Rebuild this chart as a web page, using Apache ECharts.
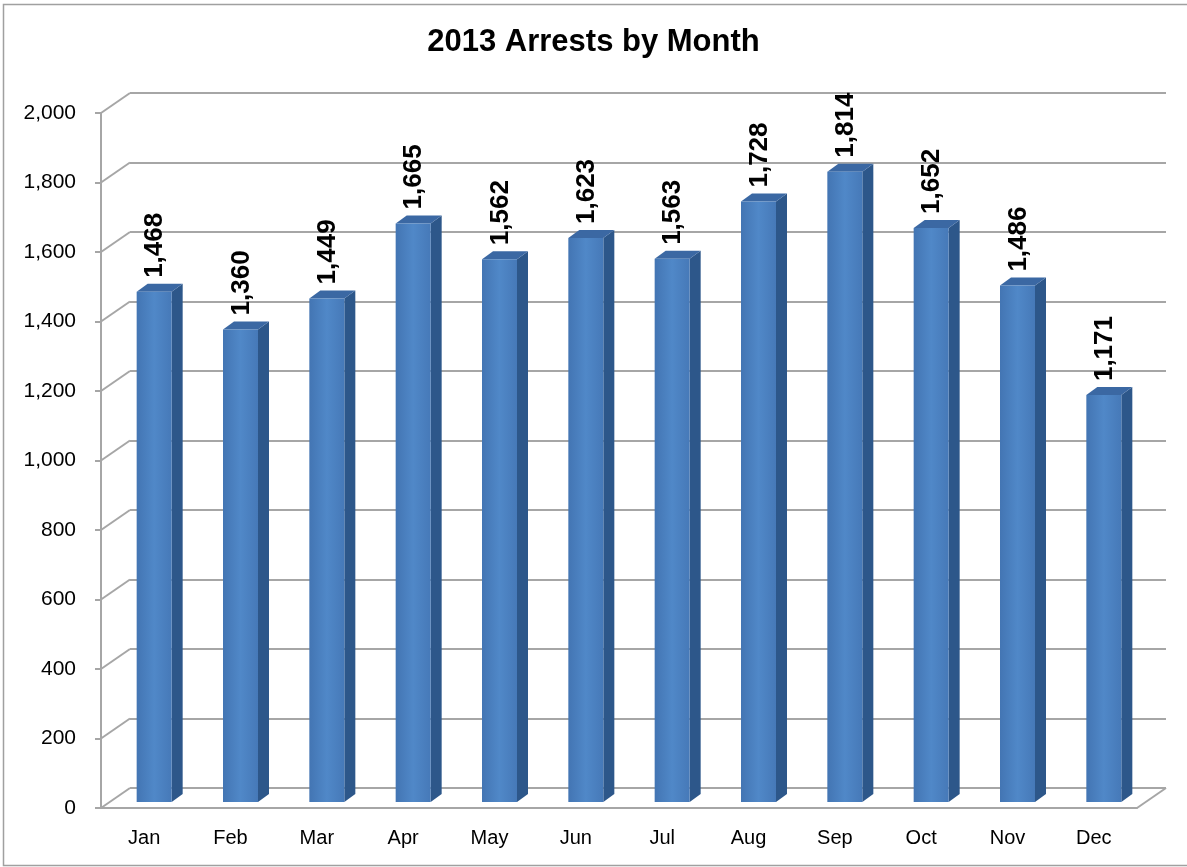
<!DOCTYPE html>
<html>
<head>
<meta charset="utf-8">
<script src="https://cdn.jsdelivr.net/npm/echarts@6/dist/echarts.min.js"></script>
<style>
  html, body { margin: 0; padding: 0; background: #fff; }
  #chart { width: 1187px; height: 867px; }
</style>
</head>
<body>
<div id="chart"></div>
<script>
// data
var months = ['Jan', 'Feb', 'Mar', 'Apr', 'May', 'Jun', 'Jul', 'Aug', 'Sep', 'Oct', 'Nov', 'Dec'];
var arrests = [1468, 1360, 1449, 1665, 1562, 1623, 1563, 1728, 1814, 1652, 1486, 1171];
var yTicks = [0, 200, 400, 600, 800, 1000, 1200, 1400, 1600, 1800, 2000];

// 3d look
var WALL_DX = 29, WALL_DY = -20;   // back wall offset
var BAR_DX = 10, BAR_DY = -6;      // bar sits mid-depth
var BAR_W = 35, DEPTH_X = 11, DEPTH_Y = -8;
var LINE = '#a6a6a6';
var FONT = 'Liberation Sans, Arial, sans-serif';

var chart = echarts.init(document.getElementById('chart'));

function renderBar (params, api) {
  var cat = api.value(0);
  var v = api.value(1);
  var top = api.coord([cat, v]);
  var base = api.coord([cat, 0]);
  var x0 = top[0] - BAR_W / 2 + BAR_DX;
  var x1 = x0 + BAR_W;
  var yt = top[1] + BAR_DY;
  var yb = base[1] + BAR_DY;
  return {
    type: 'group',
    children: [
      {
        type: 'polygon',
        shape: { points: [[x1, yt], [x1 + DEPTH_X, yt + DEPTH_Y], [x1 + DEPTH_X, yb + DEPTH_Y], [x1, yb]] },
        style: { fill: '#2d578a' }
      },
      {
        type: 'polygon',
        shape: { points: [[x0, yt], [x0 + DEPTH_X, yt + DEPTH_Y], [x1 + DEPTH_X, yt + DEPTH_Y], [x1, yt]] },
        style: { fill: '#3b68a3' }
      },
      {
        type: 'rect',
        shape: { x: x0, y: yt, width: BAR_W, height: yb - yt },
        style: {
          fill: new echarts.graphic.LinearGradient(0, 0, 1, 0, [
            { offset: 0, color: '#4375b3' },
            { offset: 0.5, color: '#5088c8' },
            { offset: 1, color: '#4679b8' }
          ])
        }
      },
      {
        type: 'text',
        x: (x0 + x1) / 2 + 1,
        y: yt - 14,
        rotation: Math.PI / 2,
        style: {
          text: v.toLocaleString('en-US'),
          font: 'bold 26px ' + FONT,
          fill: '#000',
          align: 'left',
          verticalAlign: 'middle'
        }
      }
    ]
  };
}

// side wall diagonals + floor right edge
function renderWall (params, api) {
  var cs = params.coordSys;
  var y = api.coord([0, api.value(0)])[1];
  var x = cs.x;
  var kids = [{
    type: 'line',
    shape: { x1: x, y1: y, x2: x + WALL_DX, y2: y + WALL_DY },
    style: { stroke: LINE, lineWidth: 2 }
  }];
  if (api.value(0) === 0) {
    var xr = cs.x + cs.width;
    kids.push({
      type: 'line',
      shape: { x1: xr, y1: y, x2: xr + WALL_DX, y2: y + WALL_DY },
      style: { stroke: LINE, lineWidth: 2 }
    });
  }
  return { type: 'group', children: kids };
}

chart.setOption({
  animation: false,
  title: {
    text: '2013 Arrests by Month',
    left: 'center',
    top: 22,
    textStyle: { fontFamily: FONT, fontSize: 31, fontWeight: 'bold', color: '#000' }
  },
  graphic: [{
    type: 'rect',
    shape: { x: 3.5, y: 4.5, width: 1200, height: 861 },
    style: { fill: 'none', stroke: '#a0a0a0', lineWidth: 1.5 },
    z: -10
  }],
  grid: [
    { left: 101, right: 50, top: 113, bottom: 59 },
    { left: 101 + WALL_DX, right: 50 - WALL_DX, top: 113 + WALL_DY, bottom: 59 - WALL_DY }
  ],
  xAxis: [
    {
      type: 'category',
      gridIndex: 0,
      data: months,
      axisLine: { lineStyle: { color: LINE, width: 2 } },
      axisTick: { length: 6, lineStyle: { color: LINE, width: 2 } },
      axisLabel: { color: '#000', fontFamily: FONT, fontSize: 20, margin: 20 }
    },
    {
      type: 'category',
      gridIndex: 1,
      data: months,
      show: false
    }
  ],
  yAxis: [
    {
      type: 'value',
      gridIndex: 0,
      min: 0,
      max: 2000,
      interval: 200,
      axisLine: { show: true, lineStyle: { color: LINE, width: 2 } },
      axisTick: { show: true, length: 6, lineStyle: { color: LINE, width: 2 } },
      splitLine: { show: false },
      axisLabel: {
        color: '#000', fontFamily: FONT, fontSize: 21, margin: 25,
        formatter: function (v) { return v.toLocaleString('en-US'); }
      }
    },
    {
      type: 'value',
      gridIndex: 1,
      min: 0,
      max: 2000,
      interval: 200,
      axisLine: { show: false },
      axisTick: { show: false },
      axisLabel: { show: false },
      splitLine: { show: true, lineStyle: { color: LINE, width: 2 } }
    }
  ],
  series: [
    {
      type: 'custom',
      xAxisIndex: 0,
      yAxisIndex: 0,
      renderItem: renderWall,
      data: yTicks.map(function (t) { return [t]; }),
      encode: { y: 0 },
      silent: true,
      z: 1
    },
    {
      type: 'custom',
      xAxisIndex: 0,
      yAxisIndex: 0,
      renderItem: renderBar,
      data: months.map(function (m, i) { return [i, arrests[i]]; }),
      encode: { x: 0, y: 1 },
      clip: false,
      z: 5
    }
  ]
});
</script>
</body>
</html>
